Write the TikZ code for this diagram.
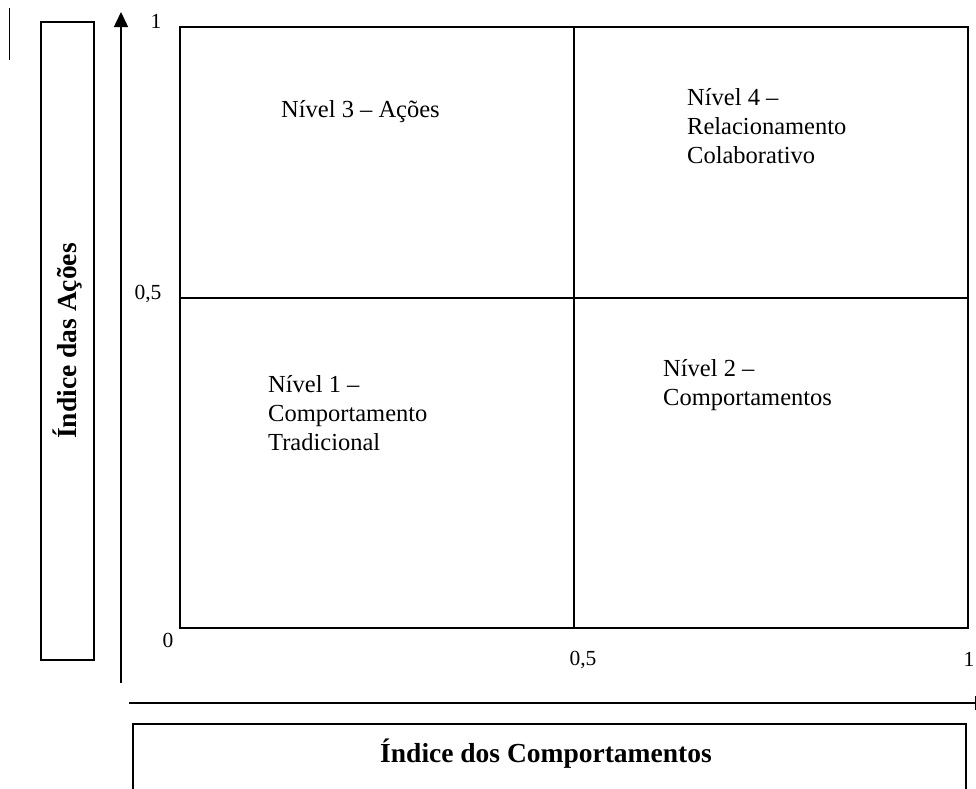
\documentclass[tikz,border=0pt]{standalone}
\usepackage{fontspec}
\setmainfont{Liberation Serif}
\usetikzlibrary{arrows.meta}

\begin{document}
\begin{tikzpicture}[
   x=1pt,y=-1pt,
   frame/.style={draw,line width=1.5pt},
   axis/.style={line width=1.5pt,-{Triangle[length=15pt,width=14pt]}},
   lvl/.style={anchor=base west,align=left,inner sep=0pt,font=\fontsize{24.5}{29}\selectfont},
   num/.style={anchor=base,inner sep=0pt,font=\fontsize{21.5}{24}\selectfont},
   title/.style={inner sep=0pt,font=\fontsize{27.5}{30}\selectfont\bfseries}]
\useasboundingbox (0,0) rectangle (976,788);
\draw[line width=1.6pt] (9.5,8) -- (9.5,60);
% axes
\coordinate (yo) at (121,683);
\coordinate (yt) at (121,12);
\coordinate (xo) at (129,703);
\coordinate (xt) at (990,703);
\draw[axis] (yo) -- (yt);
\draw[axis] (xo) -- (xt);
% quadrants
\coordinate (sw) at (180,628);
\coordinate (ne) at (968,27);
\coordinate (c) at (574,298);
\draw[frame] (sw) rectangle (ne);
\draw[frame] (sw |- c) -- (ne |- c);
\draw[frame] (c |- ne) -- (c |- sw);
% scale values
\node[num] (y1) at (156,28) {1};
\node[num] (y05) at (148,299) {0,5};
\node[num] (o) at (168,647) {0};
\node[num] (x05) at (583,665) {0,5};
\node[num] (x1) at (969,666) {1};
% levels (base = last line)
\node[lvl] (n3) at (281,117) {Nível 3 – Ações};
\node[lvl] (n4) at (687,163) {Nível 4 –\\Relacionamento\\Colaborativo};
\node[lvl] (n1) at (268,450) {Nível 1 –\\Comportamento\\Tradicional};
\node[lvl] (n2) at (663,405) {Nível 2 –\\Comportamentos};
% axis titles
\node[frame,title,rotate=90,minimum width=638pt,minimum height=53pt] (ybox) at (67.5,341) {Índice das Ações};
\draw[frame] (133,810) |- (966,724) -- (966,810);
\node[title,anchor=base] (xlab) at (546,762) {Índice dos Comportamentos};
\end{tikzpicture}
\end{document}
